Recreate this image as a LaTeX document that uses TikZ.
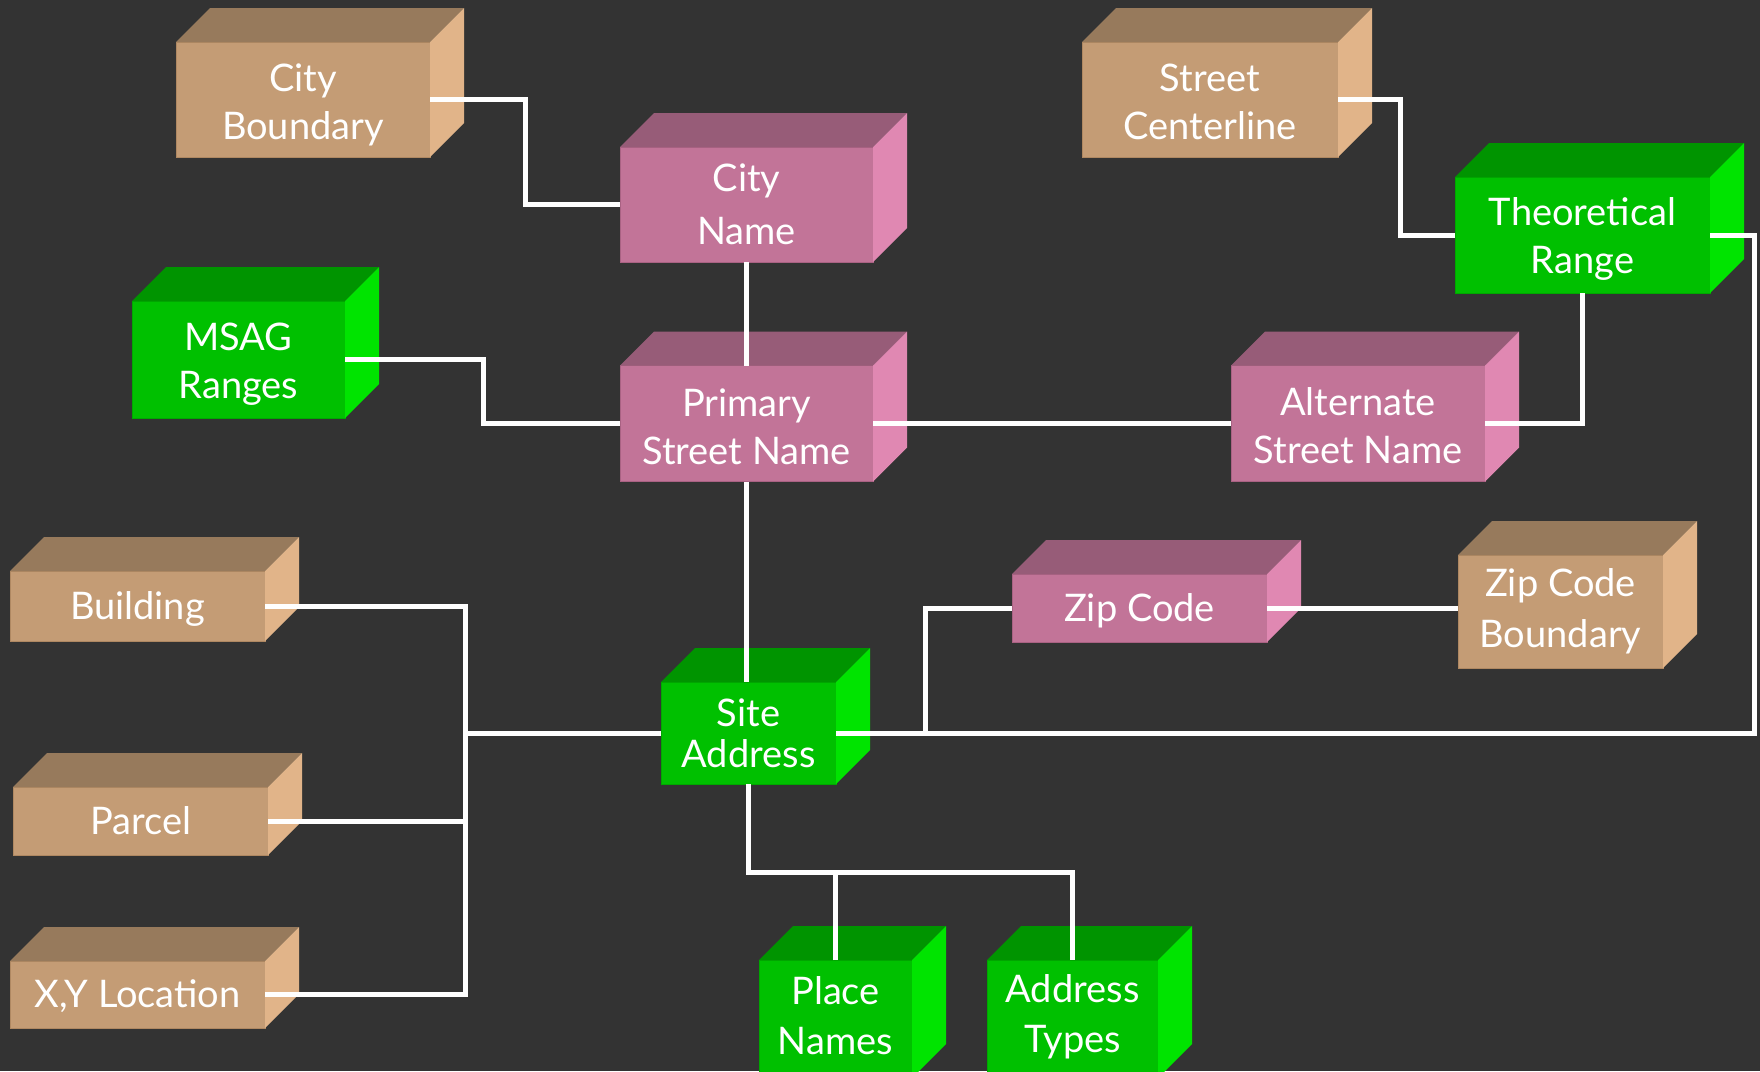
\documentclass[tikz,border=0pt]{standalone}
\usepackage{fontspec}
\setmainfont{Lato}
\definecolor{bg}{HTML}{333333}
\definecolor{tanF}{HTML}{C49C75}
\definecolor{tanT}{HTML}{977A5C}
\definecolor{tanS}{HTML}{E1B489}
\definecolor{tanE}{HTML}{AF8862}
\definecolor{pinkF}{HTML}{C27498}
\definecolor{pinkT}{HTML}{975C78}
\definecolor{pinkS}{HTML}{E088B2}
\definecolor{pinkE}{HTML}{A96283}
\definecolor{greenF}{HTML}{00C000}
\definecolor{greenT}{HTML}{009400}
\definecolor{greenS}{HTML}{00E400}
\definecolor{greenE}{HTML}{00A800}
\newcommand\dn[1]{\rule{0pt}{#1}}
\newcommand\upby[1]{\rule[-#1]{0pt}{#1}}
\tikzset{
  box/.style={rectangle, inner sep=0pt, outer sep=0pt, text=white, align=center,
    font=\fontsize{38}{48}\selectfont, line width=1pt},
  tanbox/.style={box, fill=tanF, draw=tanE},
  pinkbox/.style={box, fill=pinkF, draw=pinkE},
  greenbox/.style={box, fill=greenF, draw=greenE},
  conn/.style={draw=white, line width=5pt, line join=miter},
}
\newcommand\cubefaces[3]{%
  \fill[#2] (#1.north west) -- ([shift={(34,-34)}]#1.north west) -- ([shift={(34,-34)}]#1.north east) -- (#1.north east) -- cycle;
  \fill[#3] (#1.north east) -- ([shift={(34,-34)}]#1.north east) -- ([shift={(34,-34)}]#1.south east) -- (#1.south east) -- cycle;
}
\begin{document}
\begin{tikzpicture}[x=1pt,y=-1pt]
\fill[bg] (0,0) rectangle (1760,1071);
\useasboundingbox (0,0) rectangle (1760,1071);

% front faces
\node[tanbox, minimum width=254pt, minimum height=115pt] (cityb) at (303,99.5) {\dn{38pt}City\\Boundary};
\node[pinkbox, minimum width=253pt, minimum height=115pt, font=\fontsize{38}{53}\selectfont] (cityn) at (746.5,204.5) {City\\Name};
\node[pinkbox, minimum width=253pt, minimum height=116pt] (primary) at (746.5,423.5) {\dn{34pt}Primary\\Street Name};
\node[greenbox, minimum width=213pt, minimum height=117pt] (msag) at (238.5,359.5) {\dn{36pt}MSAG\\Ranges};
\node[tanbox, minimum width=256pt, minimum height=115pt] (streetc) at (1210,99.5) {\dn{32pt}Street\\Centerline};
\node[greenbox, minimum width=255pt, minimum height=116pt] (theo) at (1582.5,235) {\dn{36pt}Theoretical\\Range};
\node[pinkbox, minimum width=254pt, minimum height=116pt] (alternate) at (1358,423.5) {\dn{32pt}Alternate\\Street Name};
\node[pinkbox, minimum width=255pt, minimum height=68pt] (zip) at (1139.5,608) {\dn{34pt}Zip Code};
\node[tanbox, minimum width=205pt, minimum height=113pt, font=\fontsize{38}{51}\selectfont] (zipb) at (1560.5,611.5) {Zip Code\\Boundary};
\node[tanbox, minimum width=255pt, minimum height=70pt] (bldg) at (137.5,606) {\dn{34pt}Building};
\node[tanbox, minimum width=255pt, minimum height=68pt] (parcel) at (140.5,821) {Parcel};
\node[tanbox, minimum width=255pt, minimum height=67pt] (xy) at (137.5,994.5) {\dn{32pt}X,Y Location};
\node[greenbox, minimum width=175pt, minimum height=102pt, font=\fontsize{38}{41}\selectfont] (site) at (748.5,733) {Site\\Address};
\node[greenbox, minimum width=153pt, minimum height=118pt, font=\fontsize{38}{50}\selectfont] (place) at (835.5,1019) {Place\\Names\upby{8pt}};
\node[greenbox, minimum width=171pt, minimum height=118pt, font=\fontsize{38}{50}\selectfont] (atypes) at (1072.5,1019) {Address\\Types\upby{12pt}};

% 3D faces
\cubefaces{cityb}{tanT}{tanS}
\cubefaces{streetc}{tanT}{tanS}
\cubefaces{zipb}{tanT}{tanS}
\cubefaces{bldg}{tanT}{tanS}
\cubefaces{parcel}{tanT}{tanS}
\cubefaces{xy}{tanT}{tanS}
\cubefaces{cityn}{pinkT}{pinkS}
\cubefaces{primary}{pinkT}{pinkS}
\cubefaces{alternate}{pinkT}{pinkS}
\cubefaces{zip}{pinkT}{pinkS}
\cubefaces{msag}{greenT}{greenS}
\cubefaces{theo}{greenT}{greenS}
\cubefaces{site}{greenT}{greenS}
\cubefaces{place}{greenT}{greenS}
\cubefaces{atypes}{greenT}{greenS}

% junction points
\coordinate (lj) at (465,733);
\coordinate (zj) at (925,733);
\coordinate (bj) at (748.5,872);

% connectors
\draw[conn] (cityb.east) -- ++(95,0) |- (cityn.west);
\draw[conn] (cityn.south) -- (primary.north);
\draw[conn] (msag.east) -- ++(138,0) |- (primary.west);
\draw[conn] (primary.east) -- (alternate.west);
\draw[conn] (streetc.east) -- ++(62,0) |- (theo.west);
\draw[conn] (theo.south) |- (alternate.east);
\draw[conn] (theo.east) -- ++(44,0) |- (site.east);
\draw[conn] (zip.west) -| (zj);
\draw[conn] (zip.east) -- (zip.east -| zipb.west);
\draw[conn] (primary.south) -- (primary.south |- site.north);
\draw[conn] (site.west) -- (lj);
\draw[conn] (bldg.east) -| (lj);
\draw[conn] (parcel.east) -| (lj);
\draw[conn] (xy.east) -| (lj);
\draw[conn] (site.south) -- (bj) -| (atypes.north);
\draw[conn] (place.north) -- (place.north |- bj);
\end{tikzpicture}
\end{document}
